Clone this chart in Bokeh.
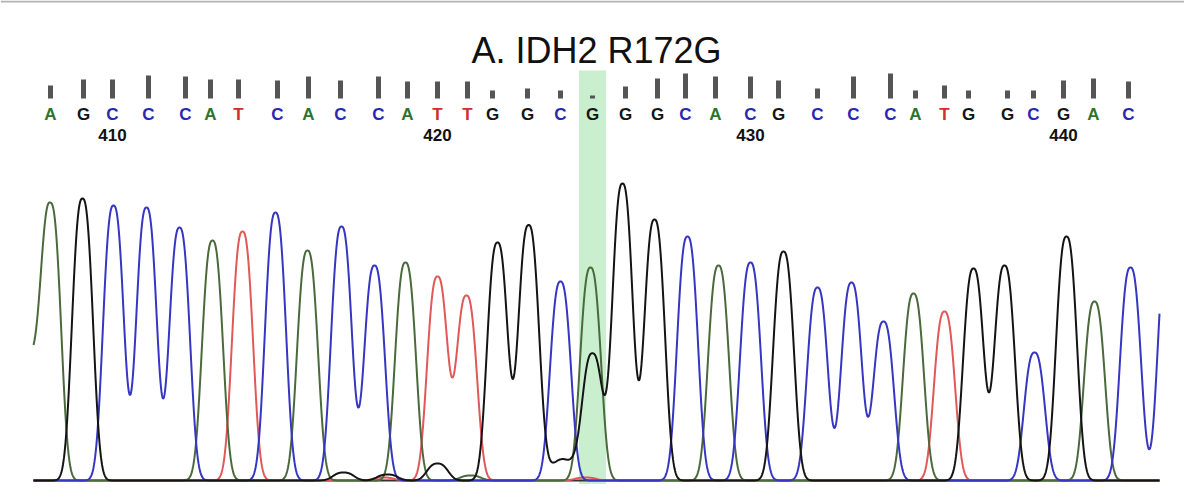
import numpy as np
from bokeh.plotting import figure
from bokeh.models import Range1d, ColumnDataSource, Label, Span
from bokeh.core.properties import value
from bokeh.embed import file_html
from bokeh.resources import INLINE

# ---------------- data ----------------
TITLE = "A. IDH2 R172G"
bases = list("AGCCCATCACC" + "ATTGGCGGGCACG" + "CCCATGGCGAC")
first_position = 408
mutation_position = 425
# scan position of each base call
base_scan = [50, 83, 112, 148, 185, 210, 238, 277, 308, 340, 378,
             407, 437, 467, 492, 527, 560, 592, 625, 657, 685, 715, 750, 778,
             817, 853, 890, 915, 944, 968, 1007, 1033, 1063, 1093, 1128]
quality = [13, 19, 19, 23, 22, 19, 19, 18, 22, 18, 22,
           17, 17, 17, 8, 10, 8, 3, 12, 20, 25, 22, 22, 18,
           10, 22, 25, 8, 13, 8, 8, 8, 18, 20, 17]

# trace peaks per channel: scan position and intensity
A_pos = [26, 50, 212, 307, 405, 470, 590, 718, 913, 1094]
A_int = [120, 277, 240, 230, 218, 5, 213, 215, 187, 179]
C_pos = [113, 146, 179, 275, 341, 374, 560, 687, 750, 817, 851, 883, 1034, 1130, 1168]
C_int = [275, 273, 253, 268, 254, 215, 199, 244, 218, 193, 198, 159, 128, 213, 245]
G_pos = [82, 343, 387, 437, 497, 528, 549, 568, 592, 622, 654, 783, 973, 1004, 1066]
G_int = [282, 8, 6, 17, 238, 255, 13, 19, 127, 297, 261, 229, 212, 215, 244]
T_pos = [242, 383, 437, 466, 585, 944]
T_int = [249, 3, 204, 185, 3, 169]
scan_start, scan_end = 33, 1159

# ---------------- styles ----------------
trace_color = {"A": "#4a6a3c", "C": "#3636c2", "G": "#141414", "T": "#e05858"}
letter_color = {"A": "#2d742d", "C": "#2828b0", "G": "#151515", "T": "#d42c2c"}
PEAK_W, PEAK_P = 13.0, 2.6

p = figure(width=1184, height=484, output_backend="svg", toolbar_location=None,
           x_range=Range1d(0, 1184), y_range=Range1d(-4, 480),
           min_border=0, background_fill_color="white", border_fill_color="white")
p.axis.visible = False
p.grid.visible = False
p.outline_line_color = None
p.add_layout(Span(location=479, dimension="width", line_color="#b4b4b4", line_width=2))

# highlight of the mutated base
mi = mutation_position - first_position
p.quad(left=[base_scan[mi] - 13.5], right=[base_scan[mi] + 13.5], bottom=[-4], top=[410],
       fill_color="#c9efcf", line_color=None)

# traces
xs = np.arange(scan_start, scan_end + 0.5, 0.5)
def trace(pos, inten):
    y = np.zeros_like(xs)
    for c, h in zip(pos, inten):
        y += h * np.exp(-(np.abs(xs - c) / PEAK_W) ** PEAK_P)
    return y

p.line(xs, np.zeros_like(xs), line_color="#333333", line_width=2)
for ch, pos, inten in [("T", T_pos, T_int), ("A", A_pos, A_int), ("C", C_pos, C_int), ("G", G_pos, G_int)]:
    p.line(xs, trace(pos, inten), line_color=trace_color[ch], line_width=2)

# quality bars
p.vbar(x=base_scan, bottom=382, top=[382 + q for q in quality], width=5,
       fill_color="#555555", line_color=None)

# base letters
src = ColumnDataSource(dict(x=base_scan, y=[366] * len(bases), t=bases,
                            c=[letter_color[b] for b in bases]))
p.text(x="x", y="y", text="t", text_color="c", source=src,
       text_font=value("Liberation Sans"), text_font_size="17px", text_font_style="bold",
       text_align="center", text_baseline="middle")

# position numbers
num_x = [base_scan[i] for i in range(len(bases)) if (first_position + i) % 10 == 0]
num_t = [str(first_position + i) for i in range(len(bases)) if (first_position + i) % 10 == 0]
p.text(x=num_x, y=[346] * len(num_x), text=num_t, text_color="#111111",
       text_font=value("Liberation Sans"), text_font_size="17px", text_font_style="bold",
       text_align="center", text_baseline="middle")

# title
p.add_layout(Label(x=596, y=430, text=TITLE, text_align="center", text_baseline="middle",
                   text_font="Liberation Sans", text_font_size="36px", text_color="#111111"))

open("out.html", "w").write(file_html(p, INLINE))
